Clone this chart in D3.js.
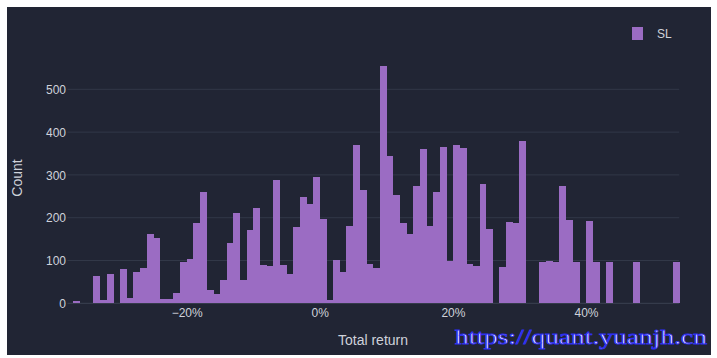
<!DOCTYPE html>
<html>
<head>
<meta charset="utf-8">
<script src="https://cdn.jsdelivr.net/npm/d3@7"></script>
<style>
  body{margin:0;background:#fff;}
</style>
</head>
<body>
<div id="grafico"></div>
<script>
// bins de 1% a partir de -37%
const binStart = -37;
const binSize = 1;
const counts = [5,0,0,64,8,68,0,80,13,72,82,161,153,11,9,23,97,104,188,259,
  32,21,55,142,212,55,171,222,90,87,288,90,69,179,249,233,296,197,7,101,
  74,181,370,265,92,83,555,344,253,188,161,273,360,181,261,366,100,371,364,91,
  88,279,173,0,85,191,187,380,0,0,97,99,97,274,195,97,0,193,97,0,
  97,0,0,0,96,0,0,0,0,0,97];
const yTicks = [0,100,200,300,400,500];
const xTicks = [-20,0,20,40];
const seriesName = "SL";

const fonte='"Liberation Sans",Arial,sans-serif';
const W=717, H=358;
const svg=d3.select('#grafico').append('svg')
  .attr('width',W).attr('height',H);

svg.append('rect')
  .attr('x',7).attr('y',7).attr('width',704).attr('height',348)
  .attr('fill','#212534');

const x=d3.scaleLinear().domain([-37.9,54]).range([67.5,679.2]);
const y=d3.scaleLinear().domain([0,583]).range([303.3,53.8]);

// grade
svg.append('g').selectAll('line').data(yTicks).join('line')
  .attr('x1',x.range()[0]).attr('x2',x.range()[1])
  .attr('y1',d=>y(d)).attr('y2',d=>y(d))
  .attr('stroke',d=>d===0?'#3b4252':'#323848').attr('stroke-width',1);

// barras
const bins=counts.map((c,i)=>({x0:binStart+i*binSize,x1:binStart+(i+1)*binSize,c:c}));
svg.append('g').attr('shape-rendering','crispEdges')
  .selectAll('rect').data(bins.filter(b=>b.c>0)).join('rect')
  .attr('x',d=>x(d.x0)).attr('width',d=>x(d.x1)-x(d.x0)+0.3)
  .attr('y',d=>y(d.c)).attr('height',d=>y(0)-y(d.c))
  .attr('fill','#9b6cc3');

// eixo y
const yAxis=d3.axisLeft(y).tickValues(yTicks).tickSize(0).tickPadding(0);
const gy=svg.append('g').attr('transform','translate(66,0)').call(yAxis);
gy.select('.domain').remove();
gy.selectAll('text').attr('fill','#cfd2da').attr('font-size',12)
  .attr('font-family',fonte).attr('dy','0.35em');

// eixo x
const xAxis=d3.axisBottom(x).tickValues(xTicks).tickSize(0).tickPadding(0)
  .tickFormat(d=>(d<0?'\u2212':'')+Math.abs(d)+'%');
const gx=svg.append('g').attr('transform','translate(0,308)').call(xAxis);
gx.select('.domain').remove();
gx.selectAll('text').attr('fill','#cfd2da').attr('font-size',12)
  .attr('font-family',fonte).attr('dy','0.71em');

// titulos
svg.append('text').attr('x',373).attr('y',345).attr('text-anchor','middle')
  .attr('font-family',fonte).attr('fill','#cfd2da').attr('font-size',14).text('Total return');
svg.append('text').attr('transform','translate(22,178) rotate(-90)')
  .attr('font-family',fonte).attr('text-anchor','middle').attr('fill','#cfd2da')
  .attr('font-size',14).text('Count');

// legenda
svg.append('rect').attr('x',632).attr('y',27).attr('width',11).attr('height',13)
  .attr('fill','#9b6cc3');
svg.append('text').attr('x',657).attr('y',38).attr('fill','#cfd2da')
  .attr('font-family',fonte).attr('font-size',12).text(seriesName);

// marca d'agua
svg.append('text').attr('x',455).attr('y',344)
  .attr('font-family','"Liberation Serif","DejaVu Serif",serif').attr('font-size',22)
  .attr('textLength',252).attr('lengthAdjust','spacingAndGlyphs')
  .attr('fill','#f4f4ff').attr('stroke','#2e2ef0').attr('stroke-width',0.9)
  .text('https://quant.yuanjh.cn');
</script>
</body>
</html>
